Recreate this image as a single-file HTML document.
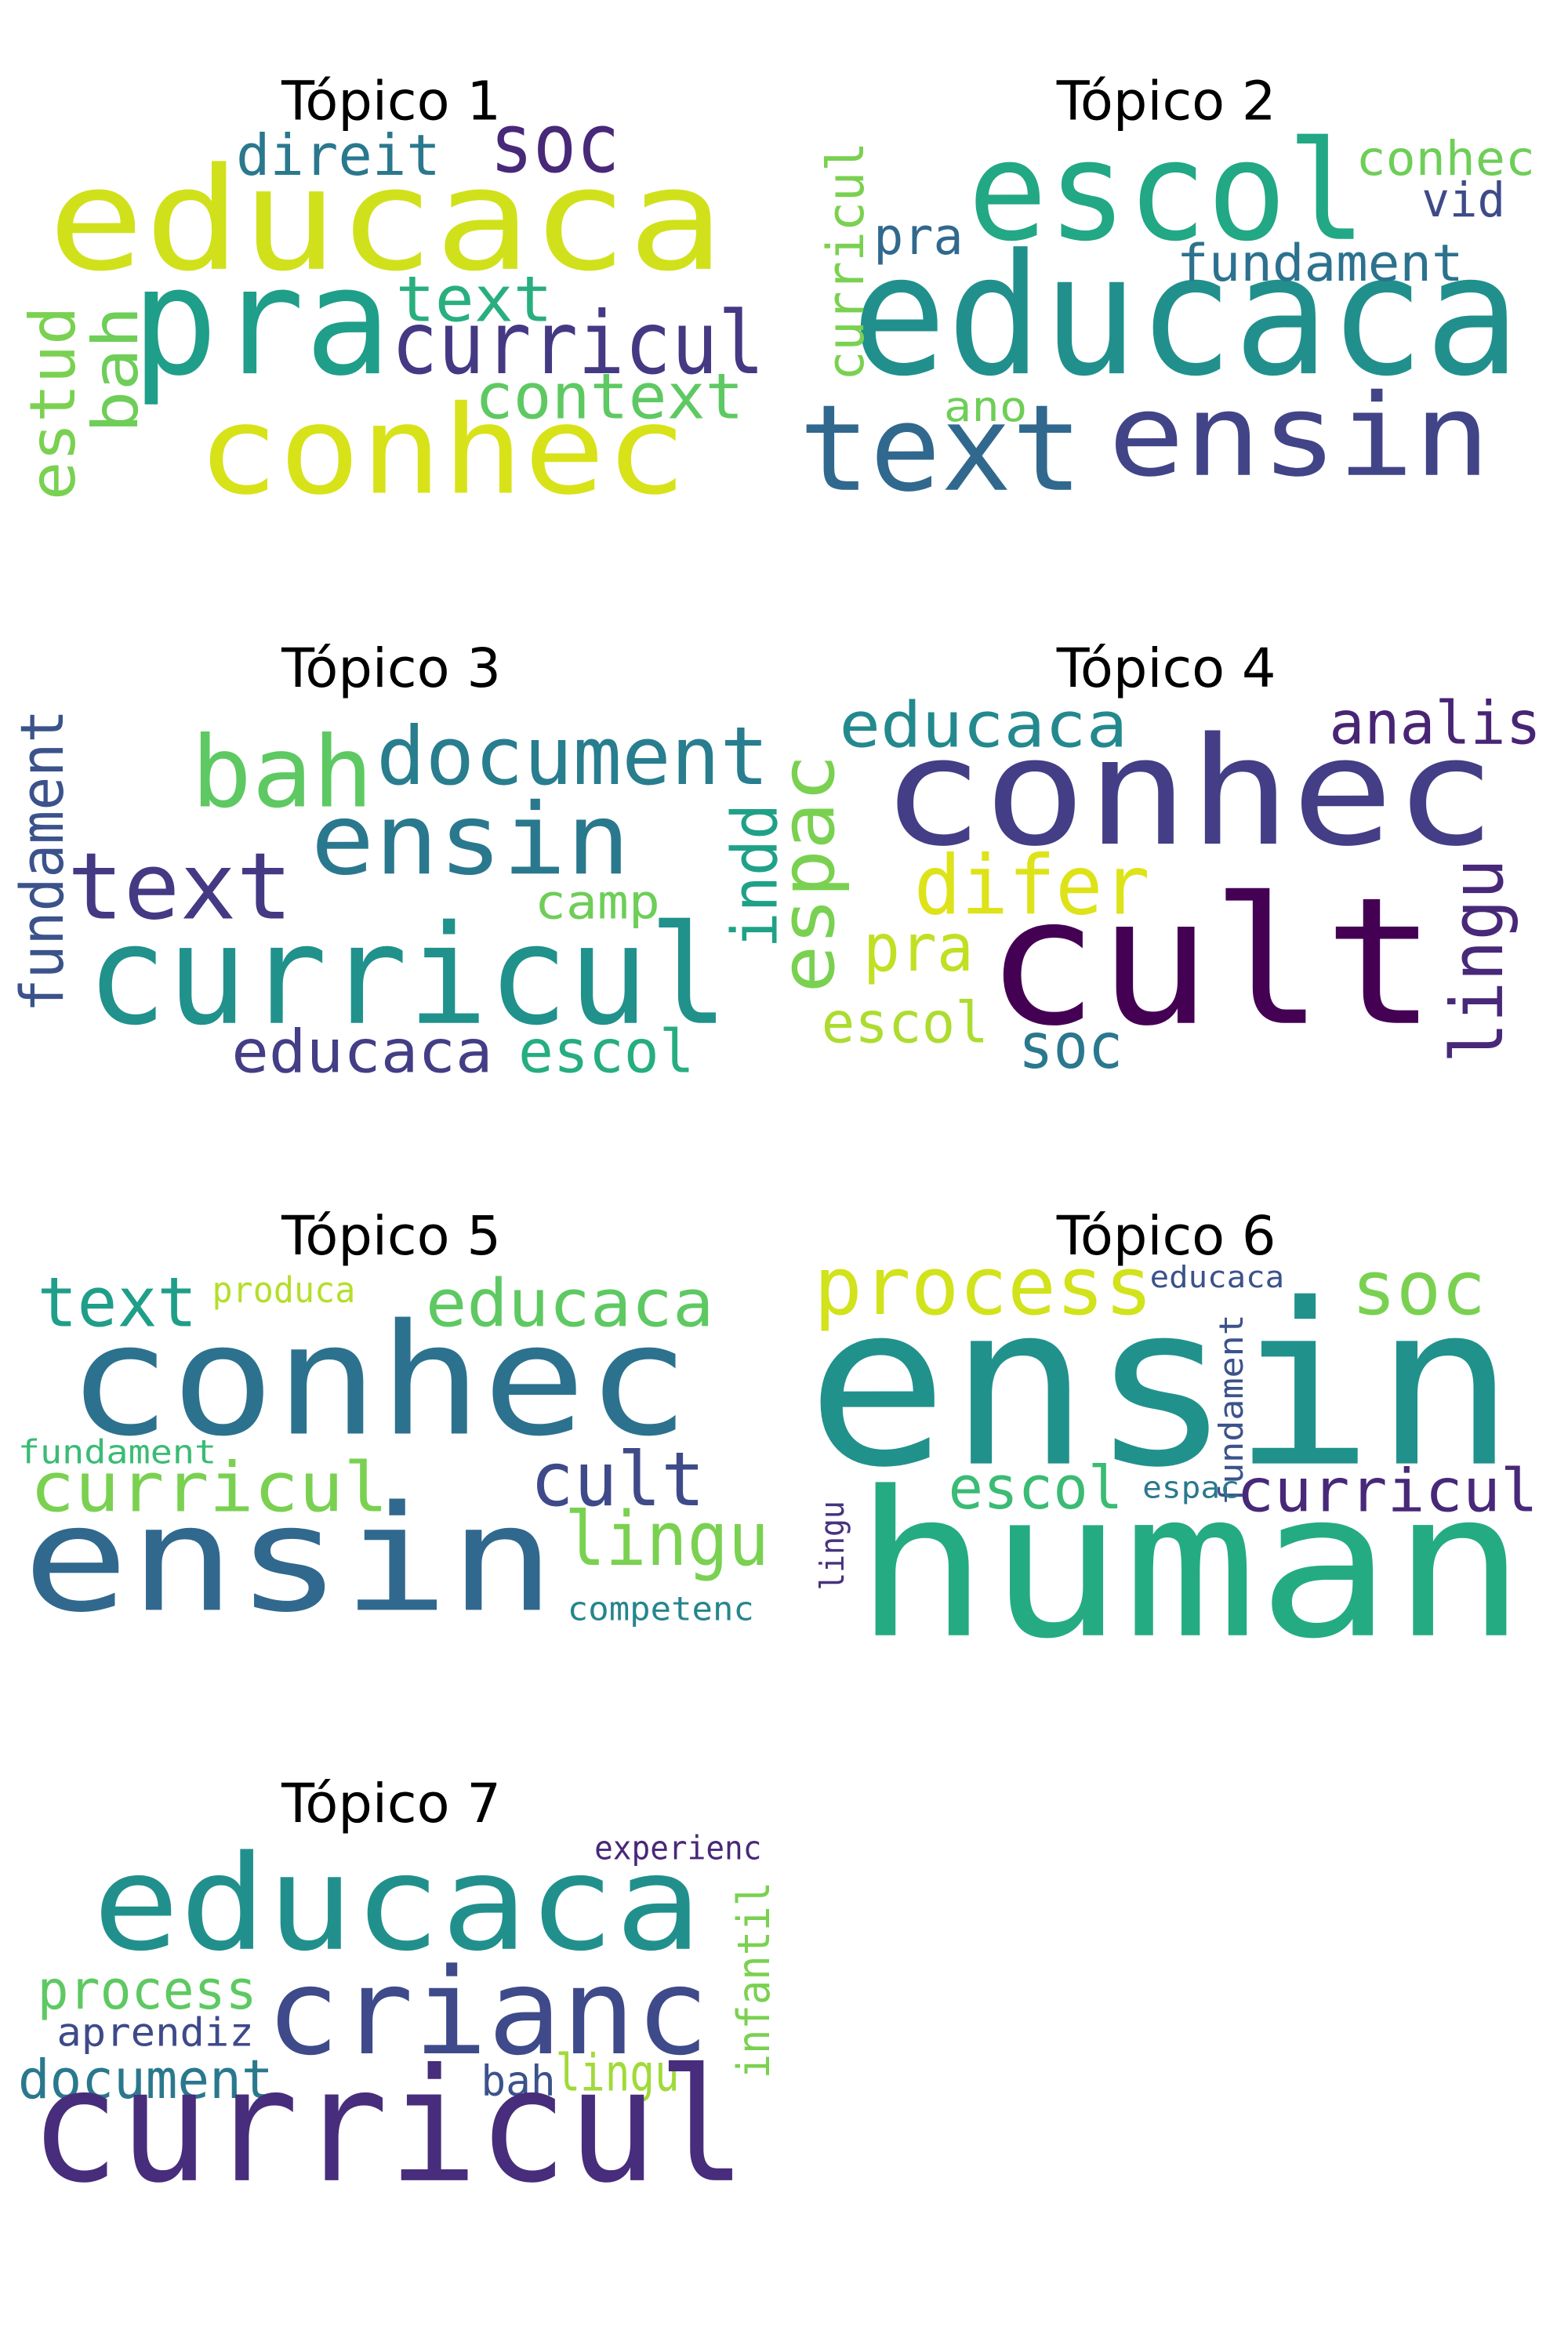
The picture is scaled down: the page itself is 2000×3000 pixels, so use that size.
<!DOCTYPE html>
<html><head><meta charset="utf-8"><style>
html,body{margin:0;padding:0;background:#fff;}
svg{display:block;}
.t{font-family:"DejaVu Sans","Liberation Sans",sans-serif;font-size:36px;fill:#000;text-anchor:middle;}
.w{font-family:"DejaVu Sans Mono","DejaVu Sans",sans-serif;}
</style></head><body>
<svg width="2000" height="3000" viewBox="0 0 1050 1575" preserveAspectRatio="none" xmlns="http://www.w3.org/2000/svg">
<rect width="1050" height="1575" fill="#fff"/>
<g id="root"></g>
</svg>
<script>
const titles=[["Tópico 1",262,80],["Tópico 2",781,80],["Tópico 3",262,460],["Tópico 4",781,460],["Tópico 5",262,840],["Tópico 6",781,840],["Tópico 7",262,1220]];
// word, x, baselineY, length, size, color, rotated
const words=[
["educaca",32,180,453,95,"#d0e11c",0],["pra",88,250,174,100,"#1f9e89",0],["conhec",132,330,328,82,"#d8e219",0],
["soc",328,115,87,55,"#482878",0],["direit",158,117,137,38,"#2a788e",0],["text",265,215,105,42,"#29af7f",0],
["curricul",262,250,250,58,"#443983",0],["context",318,280,180,42,"#5ec962",0],
["estud",50,335,130,42,"#7ad151",1],["bah",92,290,85,42,"#6ece58",1],
["escol",648,160,267,92,"#22a884",0],["educaca",570,250,448,112,"#21908d",0],["text",535,328,190,80,"#31688e",0],
["ensin",742,318,256,76,"#414487",0],["conhec",908,117,120,32,"#6ece58",0],["vid",952,145,56,32,"#3e4a89",0],
["pra",585,170,60,34,"#31688e",0],["fundament",788,188,192,34,"#2c728e",0],["ano",632,282,56,28,"#6ece58",0],
["curricul",578,255,160,34,"#7ad151",1],
["bah",128,540,122,66,"#5ec962",0],["document",252,525,263,54,"#287d8e",0],["ensin",208,585,214,66,"#2a788e",0],
["text",45,615,151,62,"#443983",0],["curricul",58,685,430,92,"#21918c",0],["camp",358,615,84,32,"#6ece58",0],
["educaca",155,718,175,40,"#433e85",0],["escol",347,718,118,40,"#26ad81",0],
["fundament",42,678,203,40,"#3b528b",1],["indd",520,635,97,42,"#1fa187",1],
["educaca",562,500,193,42,"#23898e",0],["analis",890,498,142,40,"#482475",0],["conhec",590,565,412,100,"#433e85",0],
["difer",612,612,158,55,"#dde318",0],["cult",660,685,302,118,"#440154",0],["pra",578,650,74,44,"#c2df23",0],
["escol",550,698,112,38,"#addc30",0],["soc",682,715,70,42,"#2a788e",0],
["espac",558,665,160,50,"#7ad151",1],["lingu",1006,712,137,48,"#482878",1],
["text",25,888,107,46,"#1f9e89",0],["produca",142,872,96,24,"#b5de2b",0],["educaca",285,888,193,44,"#5ec962",0],
["conhec",45,960,417,103,"#2c728e",0],["fundament",12,980,133,22,"#3bbb75",0],["curricul",20,1012,240,46,"#7ad151",0],
["cult",355,1008,117,50,"#3e4a89",0],["ensin",15,1078,357,98,"#31688e",0],["lingu",378,1048,137,50,"#7ad151",0],
["competenc",380,1085,125,22,"#25858e",0],
["process",545,880,227,54,"#d2e21b",0],["educaca",770,862,90,20,"#3b528b",0],["soc",905,880,90,50,"#7ad151",0],
["ensin",540,980,475,150,"#21918c",0],["fundament",832,1008,128,22,"#3b528b",1],["escol",635,1010,117,40,"#3bbb75",0],
["espac",765,1003,65,20,"#2a788e",0],["curricul",828,1012,202,40,"#482878",0],["lingu",565,1065,60,22,"#46337e",1],
["human",572,1095,450,135,"#25ab82",0],
["experienc",398,1245,112,22,"#482878",0],["educaca",62,1305,408,88,"#21908d",0],["process",25,1345,147,36,"#5ec962",0],
["crianc",178,1375,297,80,"#3e4a89",0],["aprendiz",38,1370,132,26,"#3e4a89",0],["infantil",515,1392,132,30,"#7ad151",1],
["document",12,1405,171,36,"#2a788e",0],["bah",322,1403,50,28,"#3b528b",0],["lingu",372,1400,83,34,"#a0da39",0],
["curricul",20,1460,480,105,"#472d7b",0]
];
const NS="http://www.w3.org/2000/svg";
const root=document.getElementById('root');
titles.forEach(t=>{
  const e=document.createElementNS(NS,'text');
  
  
  e.setAttribute('class','t');e.setAttribute('x',t[1]);e.setAttribute('y',t[2]);e.textContent=t[0];root.appendChild(e);
});
words.forEach(w=>{
  const e=document.createElementNS(NS,'text');
  
  
  e.setAttribute('class','w');
  e.setAttribute('font-size',w[4]);e.setAttribute('fill',w[5]);
  e.setAttribute('textLength',w[3]);e.setAttribute('lengthAdjust','spacingAndGlyphs');
  if(w[6]){e.setAttribute('transform','translate('+w[1]+','+w[2]+') rotate(-90)');e.setAttribute('x',0);e.setAttribute('y',0);}
  else{e.setAttribute('x',w[1]);e.setAttribute('y',w[2]);}
  e.textContent=w[0];root.appendChild(e);
});
</script>
</body></html>
